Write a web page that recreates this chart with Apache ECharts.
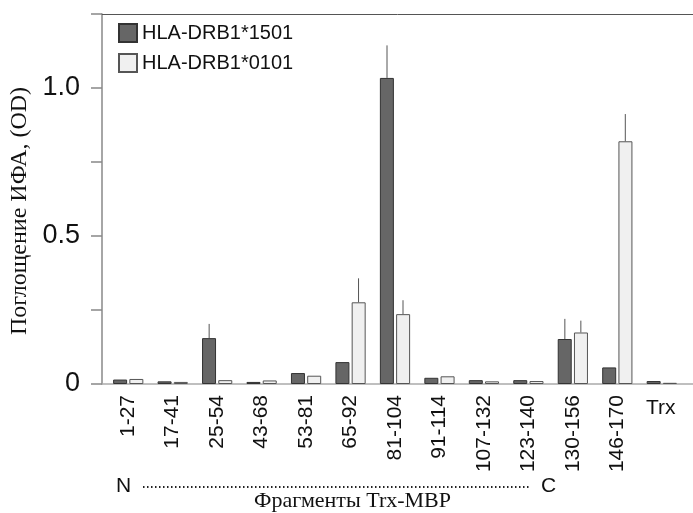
<!DOCTYPE html>
<html>
<head>
<meta charset="utf-8">
<script src="https://cdn.jsdelivr.net/npm/echarts@6/dist/echarts.min.js"></script>
<style>
  html, body { margin: 0; padding: 0; background: #fff; }
  #chart { width: 693px; height: 513px; }
</style>
</head>
<body>
<div id="chart"></div>
<script>
  // фрагменты пептидов
  var categories = ['1-27', '17-41', '25-54', '43-68', '53-81', '65-92', '81-104',
    '91-114', '107-132', '123-140', '130-156', '146-170', 'Trx'];
  var drb1501 = [0.015, 0.009, 0.155, 0.007, 0.037, 0.074, 1.034, 0.021, 0.013, 0.013, 0.152, 0.056, 0.01];
  var drb0101 = [0.017, 0.007, 0.013, 0.012, 0.028, 0.276, 0.236, 0.026, 0.009, 0.010, 0.174, 0.820, 0.004];
  var err1501 = [0, 0, 0.048, 0, 0, 0, 0.11, 0, 0, 0, 0.068, 0, 0];
  var err0101 = [0, 0, 0, 0, 0, 0.081, 0.047, 0, 0, 0, 0.040, 0.092, 0];
  var yTicks = [0, 0.5, 1.0];

  var chart = echarts.init(document.getElementById('chart'));

  function errData(vals, errs) {
    return vals.map(function (v, i) { return [i, v, errs[i]]; });
  }

  function errSeries(name, vals, errs, shift) {
    return {
      name: name,
      type: 'custom',
      xAxisIndex: 0,
      yAxisIndex: 0,
      z: 5,
      encode: { x: 0, y: 1 },
      data: errData(vals, errs),
      renderItem: function (params, api) {
        var e = api.value(2);
        if (!e) return null;
        var base = api.coord([api.value(0), api.value(1)]);
        var top = api.coord([api.value(0), api.value(1) + e]);
        return {
          type: 'line',
          shape: { x1: base[0] + shift, y1: base[1], x2: top[0] + shift, y2: top[1] },
          style: { stroke: '#555', lineWidth: 1 }
        };
      }
    };
  }

  chart.setOption({
    animation: false,
    grid: [
      { left: 106, right: 9, top: 14, bottom: 129, outerBoundsMode: 'none' },
      { left: 102, right: 0, top: 14, bottom: 129, outerBoundsMode: 'none' }
    ],
    legend: {
      orient: 'vertical',
      left: 113,
      top: 18,
      itemWidth: 18,
      itemHeight: 18,
      itemGap: 10,
      icon: 'rect',
      data: ['HLA-DRB1*1501', 'HLA-DRB1*0101'],
      textStyle: { fontFamily: 'Liberation Sans', fontSize: 20, color: '#111' }
    },
    xAxis: [
      {
        type: 'category',
        gridIndex: 0,
        data: categories,
        axisLine: { show: false },
        axisTick: { show: false },
        axisLabel: {
          rotate: 90,
          margin: 11,
          fontFamily: 'Liberation Sans',
          fontSize: 21,
          color: '#111',
          interval: 0,
          formatter: function (v) { return v === 'Trx' ? '' : v; }
        }
      },
      {
        type: 'value',
        gridIndex: 1,
        position: 'bottom',
        axisLine: { show: true, lineStyle: { color: '#aaa', width: 1.5 } },
        axisTick: { show: false },
        axisLabel: { show: false },
        splitLine: { show: false }
      },
      {
        type: 'value',
        gridIndex: 1,
        position: 'top',
        axisLine: { show: true, lineStyle: { color: '#555', width: 1 } },
        axisTick: { show: false },
        axisLabel: { show: false },
        splitLine: { show: false }
      }
    ],
    yAxis: [
      {
        type: 'value',
        gridIndex: 0,
        min: 0,
        max: 1.25,
        interval: 0.25,
        show: false
      },
      {
        type: 'value',
        gridIndex: 1,
        min: 0,
        max: 1.25,
        interval: 0.25,
        name: 'Поглощение ИФА, (OD)',
        nameLocation: 'middle',
        nameGap: 67,
        nameTextStyle: { fontFamily: 'Liberation Serif', fontSize: 24, color: '#111', padding: [0, 24, 0, 0] },
        axisLine: { show: true, lineStyle: { color: '#888', width: 1.5 } },
        axisTick: { show: true, length: 11, lineStyle: { color: '#888', width: 1.5 } },
        splitLine: { show: false },
        axisLabel: {
          margin: 22,
          fontFamily: 'Liberation Sans',
          fontSize: 27,
          color: '#111',
          formatter: function (v) {
            if (yTicks.indexOf(v) < 0) return '';
            return v === 0 ? '0' : v.toFixed(1);
          }
        }
      }
    ],
    series: [
      {
        name: 'HLA-DRB1*1501',
        type: 'bar',
        xAxisIndex: 0,
        yAxisIndex: 0,
        data: drb1501,
        barWidth: 14,
        barGap: '16%',
        itemStyle: { color: '#666', borderColor: '#333', borderWidth: 1 }
      },
      {
        name: 'HLA-DRB1*0101',
        type: 'bar',
        xAxisIndex: 0,
        yAxisIndex: 0,
        data: drb0101,
        barWidth: 14,
        barGap: '16%',
        itemStyle: { color: '#f0f0f0', borderColor: '#555', borderWidth: 1 }
      },
      errSeries('err1501', drb1501, err1501, -8),
      errSeries('err0101', drb0101, err0101, 8)
    ],
    graphic: [
      { type: 'text', left: 646, top: 398, style: { text: 'Trx', font: '21px "Liberation Sans"', fill: '#111' } },
      { type: 'text', left: 116, top: 476, style: { text: 'N', font: '21px "Liberation Sans"', fill: '#111' } },
      {
        type: 'line',
        shape: { x1: 143, y1: 487, x2: 530, y2: 487 },
        style: { stroke: '#222', lineWidth: 2, lineDash: [1.5, 2.5] }
      },
      { type: 'text', left: 541, top: 476, style: { text: 'C', font: '21px "Liberation Sans"', fill: '#111' } },
      { type: 'text', left: 254, top: 490, style: { text: 'Фрагменты Trx-MBP', font: '22px "Liberation Serif"', fill: '#111' } }
    ]
  });
</script>
</body>
</html>
